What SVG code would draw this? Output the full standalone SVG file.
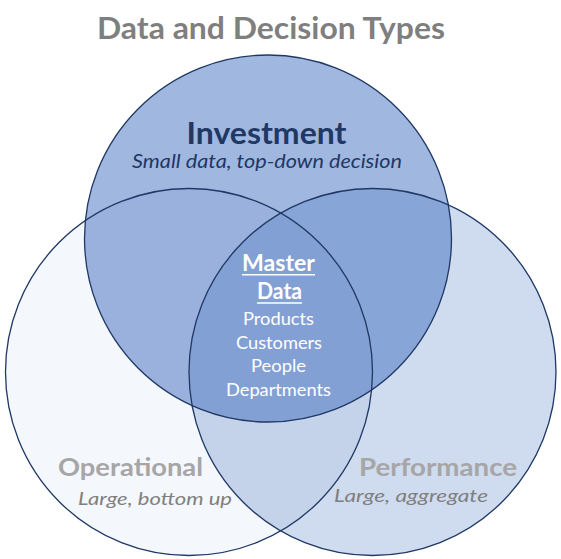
<svg xmlns="http://www.w3.org/2000/svg" width="561" height="559" viewBox="0 0 561 559">
  <defs>
    <clipPath id="clipL"><circle cx="189" cy="372" r="183.5"/></clipPath>
    <clipPath id="clipR"><circle cx="372.5" cy="372" r="183.5"/></clipPath>
    <style>
      .ring { fill: none; stroke: #1F3864; stroke-width: 1.3; }
      .title { font-family: Lato, "Liberation Sans", sans-serif; font-weight: bold; fill: #7F7F7F; }
      .head { font-family: Lato, "Liberation Sans", sans-serif; font-weight: bold; text-anchor: middle; }
      .sub { font-family: Lato, "Liberation Sans", sans-serif; font-style: italic; text-anchor: middle; }
      .md { font-family: Lato, "Liberation Sans", sans-serif; fill: #FFFFFF; text-anchor: middle; }
    </style>
  </defs>
  <rect width="561" height="559" fill="#FFFFFF"/>
  <text class="title" x="97" y="38.5" font-size="30" textLength="348" lengthAdjust="spacingAndGlyphs">Data and Decision Types</text>

  <g id="fills">
    <circle cx="189" cy="372" r="183.5" fill="#F4F7FC"/>
    <circle cx="372.5" cy="372" r="183.5" fill="#CFDBEE"/>
    <circle cx="372.5" cy="372" r="183.5" fill="#C5D3EA" clip-path="url(#clipL)"/>
    <circle cx="268" cy="238.5" r="183.5" fill="#A0B7DF"/>
    <circle cx="268" cy="238.5" r="183.5" fill="#99B1DC" clip-path="url(#clipL)"/>
    <circle cx="268" cy="238.5" r="183.5" fill="#88A5D7" clip-path="url(#clipR)"/>
    <g clip-path="url(#clipR)">
      <circle cx="268" cy="238.5" r="183.5" fill="#83A0D5" clip-path="url(#clipL)"/>
    </g>
  </g>

  <g id="operational">
    <circle class="ring" cx="189" cy="372" r="183.5"/>
    <text class="head" x="130.5" y="476" font-size="25" fill="#A6A6A6" textLength="145" lengthAdjust="spacingAndGlyphs">Operational</text>
    <text class="sub" x="155" y="505" font-size="18" fill="#7F7F7F" textLength="154" lengthAdjust="spacingAndGlyphs">Large, bottom up</text>
  </g>

  <g id="performance">
    <circle class="ring" cx="372.5" cy="372" r="183.5"/>
    <text class="head" x="438" y="476" font-size="25" fill="#A6A6A6" textLength="158" lengthAdjust="spacingAndGlyphs">Performance</text>
    <text class="sub" x="411" y="502" font-size="18" fill="#7F7F7F" textLength="154" lengthAdjust="spacingAndGlyphs">Large, aggregate</text>
  </g>

  <g id="investment">
    <circle class="ring" cx="268" cy="238.5" r="183.5"/>
    <text class="head" x="266.5" y="143.5" font-size="30" fill="#1F3864" textLength="160" lengthAdjust="spacingAndGlyphs">Investment</text>
    <text class="sub" x="267" y="167.5" font-size="18.5" fill="#1F3864" textLength="270" lengthAdjust="spacingAndGlyphs">Small data, top-down decision</text>
  </g>

  <g id="master-data">
    <text class="md" x="278.5" y="271" font-size="22" font-weight="bold" textLength="73" lengthAdjust="spacingAndGlyphs">Master</text>
    <line x1="242" y1="274.8" x2="315" y2="274.8" stroke="#FFFFFF" stroke-width="1.6"/>
    <text class="md" x="279.5" y="299" font-size="22" font-weight="bold" textLength="45" lengthAdjust="spacingAndGlyphs">Data</text>
    <line x1="257" y1="303" x2="302" y2="303" stroke="#FFFFFF" stroke-width="1.6"/>
    <text class="md" x="278.5" y="325" font-size="17" textLength="71" lengthAdjust="spacingAndGlyphs">Products</text>
    <text class="md" x="279" y="349" font-size="17" textLength="86" lengthAdjust="spacingAndGlyphs">Customers</text>
    <text class="md" x="278.5" y="372" font-size="17" textLength="55" lengthAdjust="spacingAndGlyphs">People</text>
    <text class="md" x="278.5" y="396" font-size="17" textLength="105" lengthAdjust="spacingAndGlyphs">Departments</text>
  </g>
</svg>
